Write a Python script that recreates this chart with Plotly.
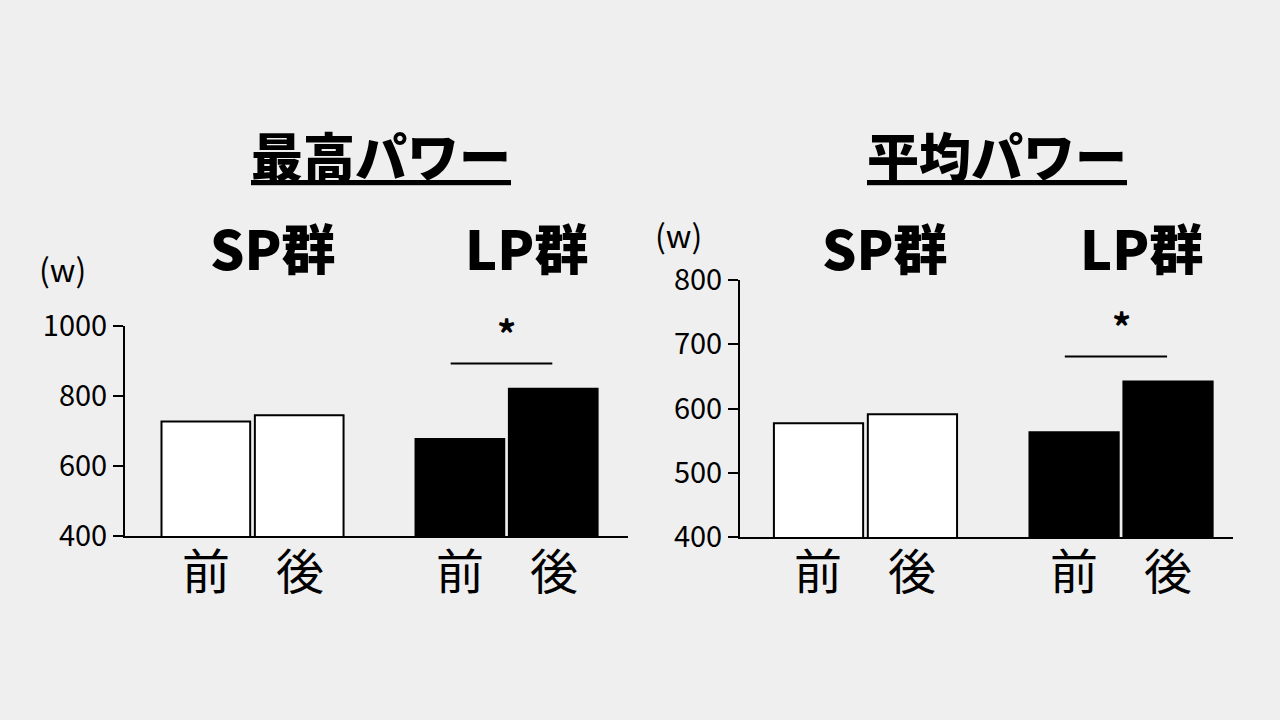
import plotly.graph_objs as graphObj
from plotly.subplots import make_subplots

groups = ["SP群", "LP群"]
phase_labels = ["前", "後"]
bar_colors = ["white", "black"]

# 最高パワー (W)
peak_before = [727, 677]
peak_after = [745, 821]
peak_sig = 893
peak_star = 980
peak_ticks = [400, 600, 800, 1000]

# 平均パワー (W)
mean_before = [577, 563]
mean_after = [591, 642]
mean_sig = 681
mean_star = 729
mean_ticks = [400, 500, 600, 700, 800]

FONT = "Noto Sans CJK JP"
BG = "#efefef"

fig = make_subplots(rows=1, cols=2)

for col, (before, after) in enumerate([(peak_before, peak_after), (mean_before, mean_after)], start=1):
    fig.add_trace(graphObj.Bar(x=groups, y=before, name="前",
                               marker=dict(color=bar_colors, line=dict(color="black", width=2))), 1, col)
    fig.add_trace(graphObj.Bar(x=groups, y=after, name="後",
                               marker=dict(color=bar_colors, line=dict(color="black", width=2))), 1, col)

fig.update_layout(
    width=1280, height=720, autosize=False,
    margin=dict(l=0, r=0, t=0, b=0, pad=0),
    paper_bgcolor=BG, plot_bgcolor=BG,
    showlegend=False,
    barmode="group", bargap=0.265, bargroupgap=0.05,
    font=dict(family=FONT, color="black"),
)

fig.update_xaxes(showgrid=False, zeroline=False, showticklabels=False, ticks="", automargin=False,
                 showline=True, linecolor="black", linewidth=2)
fig.update_yaxes(showgrid=False, zeroline=False, showline=True, linecolor="black", linewidth=2,
                 automargin=False, ticks="outside", ticklen=10, tickwidth=2, tickcolor="black",
                 tickfont=dict(size=29, family=FONT, color="black"))

fig.update_layout(
    xaxis=dict(domain=[125 / 1280, 628 / 1280], range=[-0.502, 1.478]),
    yaxis=dict(domain=[1 - 536 / 720, 1 - 326 / 720], range=[400, 1000], tickvals=peak_ticks),
    xaxis2=dict(domain=[740 / 1280, 1233 / 1280], range=[-0.491, 1.438]),
    yaxis2=dict(domain=[1 - 537 / 720, 1 - 280 / 720], range=[400, 800], tickvals=mean_ticks),
)


def text(t, x, y, size, xref="paper", yref="paper", weight="normal", **kw):
    return dict(text=t, x=x, y=y, xref=xref, yref=yref, showarrow=False,
                xanchor="center", yanchor="middle",
                font=dict(size=size, family=FONT, weight=weight), **kw)


ann = []
shapes = []
# titles
ann.append(text("<u>最高パワー</u>", 381 / 1280, 1 - 154 / 720, 52, weight=900))
ann.append(text("<u>平均パワー</u>", 997 / 1280, 1 - 154 / 720, 52, weight=900))
# units
ann.append(text("(w)", 62 / 1280, 1 - 268 / 720, 32))
ann.append(text("(w)", 678 / 1280, 1 - 234 / 720, 32))

for xr, sig, star in [("x", peak_sig, peak_star), ("x2", mean_sig, mean_star)]:
    yr = "y" if xr == "x" else "y2"
    for g in groups:
        ann.append(text(g, g, 1 - 246 / 720, 54, xref=xr, weight=900, xshift=20))
        for i, p in enumerate(phase_labels):
            ann.append(text(p, g, 1 - 568 / 720, 48, xref=xr, xshift=-47 if i == 0 else 47))
    shapes.append(dict(type="line", xref=xr, yref=yr, x0="LP群", x1="LP群", x0shift=-0.22, x1shift=0.18,
                       y0=sig, y1=sig, line=dict(color="black", width=2)))
    ann.append(text("*", "LP群", star, 38, xref=xr, yref=yr, weight="bold"))

fig.update_layout(annotations=ann, shapes=shapes)

fig.write_html("out.html", config={"displayModeBar": False},
               post_script="document.body.style.margin='0';")
